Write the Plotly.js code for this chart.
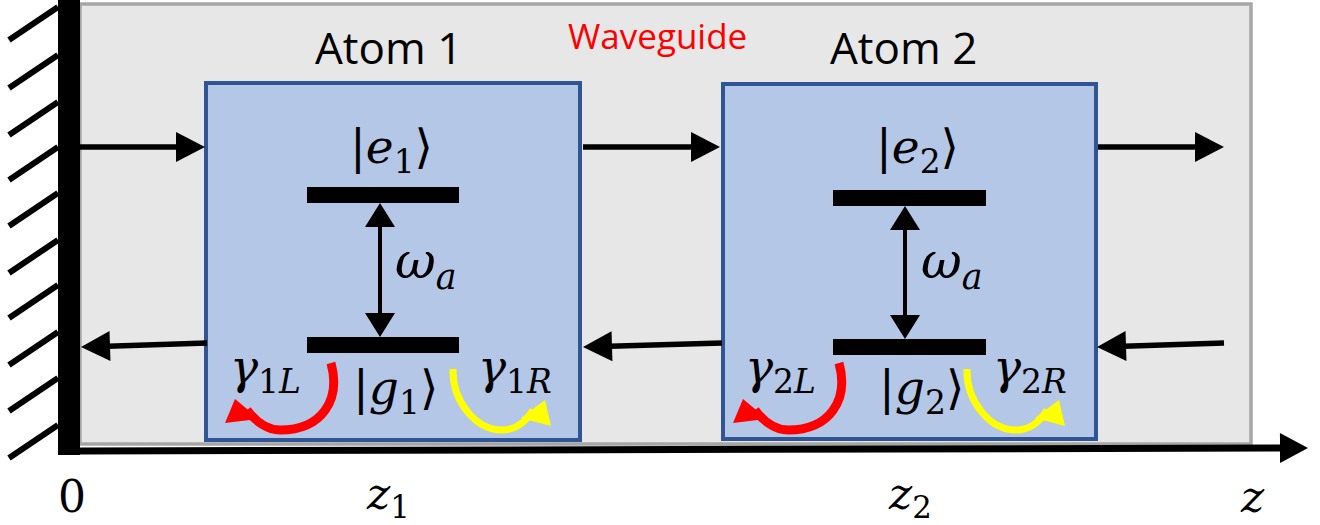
<!DOCTYPE html>
<html><head><meta charset="utf-8">
<script src="https://cdn.plot.ly/plotly-3.0.1.min.js"></script>
<style>html,body{margin:0;padding:0;background:#fff;overflow:hidden}#chart{width:1320px;height:525px}</style>
</head><body><div id="chart"></div>
<script>
// ---- diagram content ----
const atomNames = ['Atom 1', 'Atom 2'];
const atomIndex = ['1', '2'];
const boxLeft = [206, 723];
const boxRight = [580, 1096];
const boxTop = [83, 84];
const boxBottom = [440, 439];
const levelLeft = [307, 833];
const levelRight = [459, 986];
const upperLevel = [195, 198];
const lowerLevel = [345, 347];
const transitionX = [380, 905];
const atomTitleX = [388, 903];
const redShift = [0, 508];
const yellowShift = [0, 514];
// axis tick labels
const tickLabels = ['0', '<i>z</i><sub>1</sub>', '<i>z</i><sub>2</sub>', '<i>z</i>'];
const tickPos = [72, 388, 910, 1252];
// propagation arrows
const rightArrowStart = [80, 583, 1098];
const rightArrowEnd = [205, 720, 1224];
const leftArrowStart = [207, 722, 1224];
const leftArrowEnd = [81, 583, 1097];
// mirror hatching
const hatchY = [7, 55, 102, 147, 193, 240, 285, 332, 378, 425];

const shapes = [];
const ann = [];
const BLACK = '#000000';

function tri(p1, p2, p3, color) {
  shapes.push({type: 'path', xref: 'x', yref: 'y',
    path: `M ${p1[0]},${p1[1]} L ${p2[0]},${p2[1]} L ${p3[0]},${p3[1]} Z`,
    fillcolor: color, line: {width: 0}});
}
function line(x0, y0, x1, y1, w, color) {
  shapes.push({type: 'line', xref: 'x', yref: 'y', x0, y0, x1, y1, line: {color, width: w}});
}
function arrow(x0, y0, x1, y1, w, headLen, headHalf, color) {
  const dx = x1 - x0, dy = y1 - y0, L = Math.hypot(dx, dy);
  const ux = dx / L, uy = dy / L;
  const bx = x1 - ux * headLen, by = y1 - uy * headLen;
  line(x0, y0, bx + ux * 2, by + uy * 2, w, color);
  tri([x1, y1], [bx - uy * headHalf, by + ux * headHalf], [bx + uy * headHalf, by - ux * headHalf], color);
}

// waveguide background
shapes.push({type: 'rect', xref: 'x', yref: 'y', x0: 80, x1: 1251, y0: 4, y1: 444,
  fillcolor: '#e7e7e7', line: {color: '#a6a6a6', width: 3.5}});

// atom boxes
for (let i = 0; i < atomNames.length; i++) {
  shapes.push({type: 'rect', xref: 'x', yref: 'y', x0: boxLeft[i], x1: boxRight[i], y0: boxTop[i], y1: boxBottom[i],
    fillcolor: '#b4c7e7', line: {color: '#2f5597', width: 4}});
}

// mirror wall + hatching
shapes.push({type: 'rect', xref: 'x', yref: 'y', x0: 58, x1: 80, y0: 0, y1: 455, fillcolor: BLACK, line: {width: 0}});
hatchY.forEach(y => line(58, y, 9, y + 33, 6, BLACK));

// z axis
arrow(80, 451, 1308, 448, 7, 28, 15, BLACK);

// propagation arrows
for (let i = 0; i < rightArrowStart.length; i++) {
  arrow(rightArrowStart[i], 147, rightArrowEnd[i], 147, 5.5, 29, 15, BLACK);
  arrow(leftArrowStart[i], 343, leftArrowEnd[i], 347, 5.5, 29, 15, BLACK);
}

// energy levels, transitions, decay arrows
for (let i = 0; i < atomNames.length; i++) {
  shapes.push({type: 'rect', xref: 'x', yref: 'y', x0: levelLeft[i], x1: levelRight[i], y0: upperLevel[i] - 8, y1: upperLevel[i] + 8, fillcolor: BLACK, line: {width: 0}});
  shapes.push({type: 'rect', xref: 'x', yref: 'y', x0: levelLeft[i], x1: levelRight[i], y0: lowerLevel[i] - 8, y1: lowerLevel[i] + 8, fillcolor: BLACK, line: {width: 0}});
  const xt = transitionX[i], yt = upperLevel[i] + 8, yb = lowerLevel[i] - 8;
  line(xt, yt + 20, xt, yb - 20, 4, BLACK);
  tri([xt, yt], [xt - 15, yt + 24], [xt + 15, yt + 24], BLACK);
  tri([xt, yb], [xt - 15, yb - 24], [xt + 15, yb - 24], BLACK);

  const r = redShift[i], yy = yellowShift[i];
  shapes.push({type: 'path', xref: 'x', yref: 'y',
    path: `M ${331 + r},363 C ${341 + r},400 ${322 + r},430 ${280 + r},430 C ${268 + r},430 ${256 + r},422 ${247 + r},410`,
    line: {color: '#ff0000', width: 9}});
  tri([225 + r, 423], [235 + r, 399], [259 + r, 419], '#ff0000');
  shapes.push({type: 'path', xref: 'x', yref: 'y',
    path: `M ${453 + yy},369 C ${452 + yy},400 ${475 + yy},430 ${502 + yy},430 C ${515 + yy},430 ${526 + yy},422 ${533 + yy},410`,
    line: {color: '#ffff00', width: 7}});
  tri([551 + yy, 426], [545 + yy, 400], [521 + yy, 418], '#ffff00');

  const s = levelLeft[i] - levelLeft[0];
  const math = {family: 'DejaVu Serif, serif', size: 47, color: BLACK};
  ann.push({x: atomTitleX[i], y: 47, text: atomNames[i], font: {family: 'Open Sans, sans-serif', size: 44, color: BLACK}});
  ann.push({x: 391 + s, y: 150, text: `|<i>e</i><sub>${atomIndex[i]}</sub>⟩`, font: math});
  ann.push({x: 395 + s, y: 391, text: `|<i>g</i><sub>${atomIndex[i]}</sub>⟩`, font: math});
  ann.push({x: 393 + s, y: 264, xanchor: 'left', text: '<i>ω</i><sub><i>a</i></sub>', font: {family: 'DejaVu Serif, serif', size: 50, color: BLACK}});
  ann.push({x: (i === 0 ? 228 : 743), y: 370, xanchor: 'left', text: `<i>γ</i><sub>${atomIndex[i]}<i>L</i></sub>`, font: math});
  ann.push({x: (i === 0 ? 476 : 991), y: 370, xanchor: 'left', text: `<i>γ</i><sub>${atomIndex[i]}<i>R</i></sub>`, font: math});
}

ann.push({x: 657, y: 35, text: 'Waveguide', font: {family: 'Open Sans, sans-serif', size: 35, color: '#ff0000'}});
tickLabels.forEach((t, k) => ann.push({x: tickPos[k], y: 496, text: t, font: {family: 'DejaVu Serif, serif', size: 44, color: BLACK}}));

ann.forEach(a => { a.xref = 'x'; a.yref = 'y'; a.showarrow = false; if (!a.xanchor) a.xanchor = 'center'; a.yanchor = 'middle'; });

Plotly.newPlot('chart', [{x: [], y: [], type: 'scatter', mode: 'markers', hoverinfo: 'skip'}], {
  width: 1320, height: 525, autosize: false,
  margin: {l: 0, r: 0, t: 0, b: 0, pad: 0},
  paper_bgcolor: '#ffffff', plot_bgcolor: '#ffffff',
  showlegend: false,
  xaxis: {range: [0, 1320], visible: false, fixedrange: true},
  yaxis: {range: [525, 0], visible: false, fixedrange: true},
  shapes, annotations: ann
}, {staticPlot: true, displayModeBar: false});
</script></body></html>
